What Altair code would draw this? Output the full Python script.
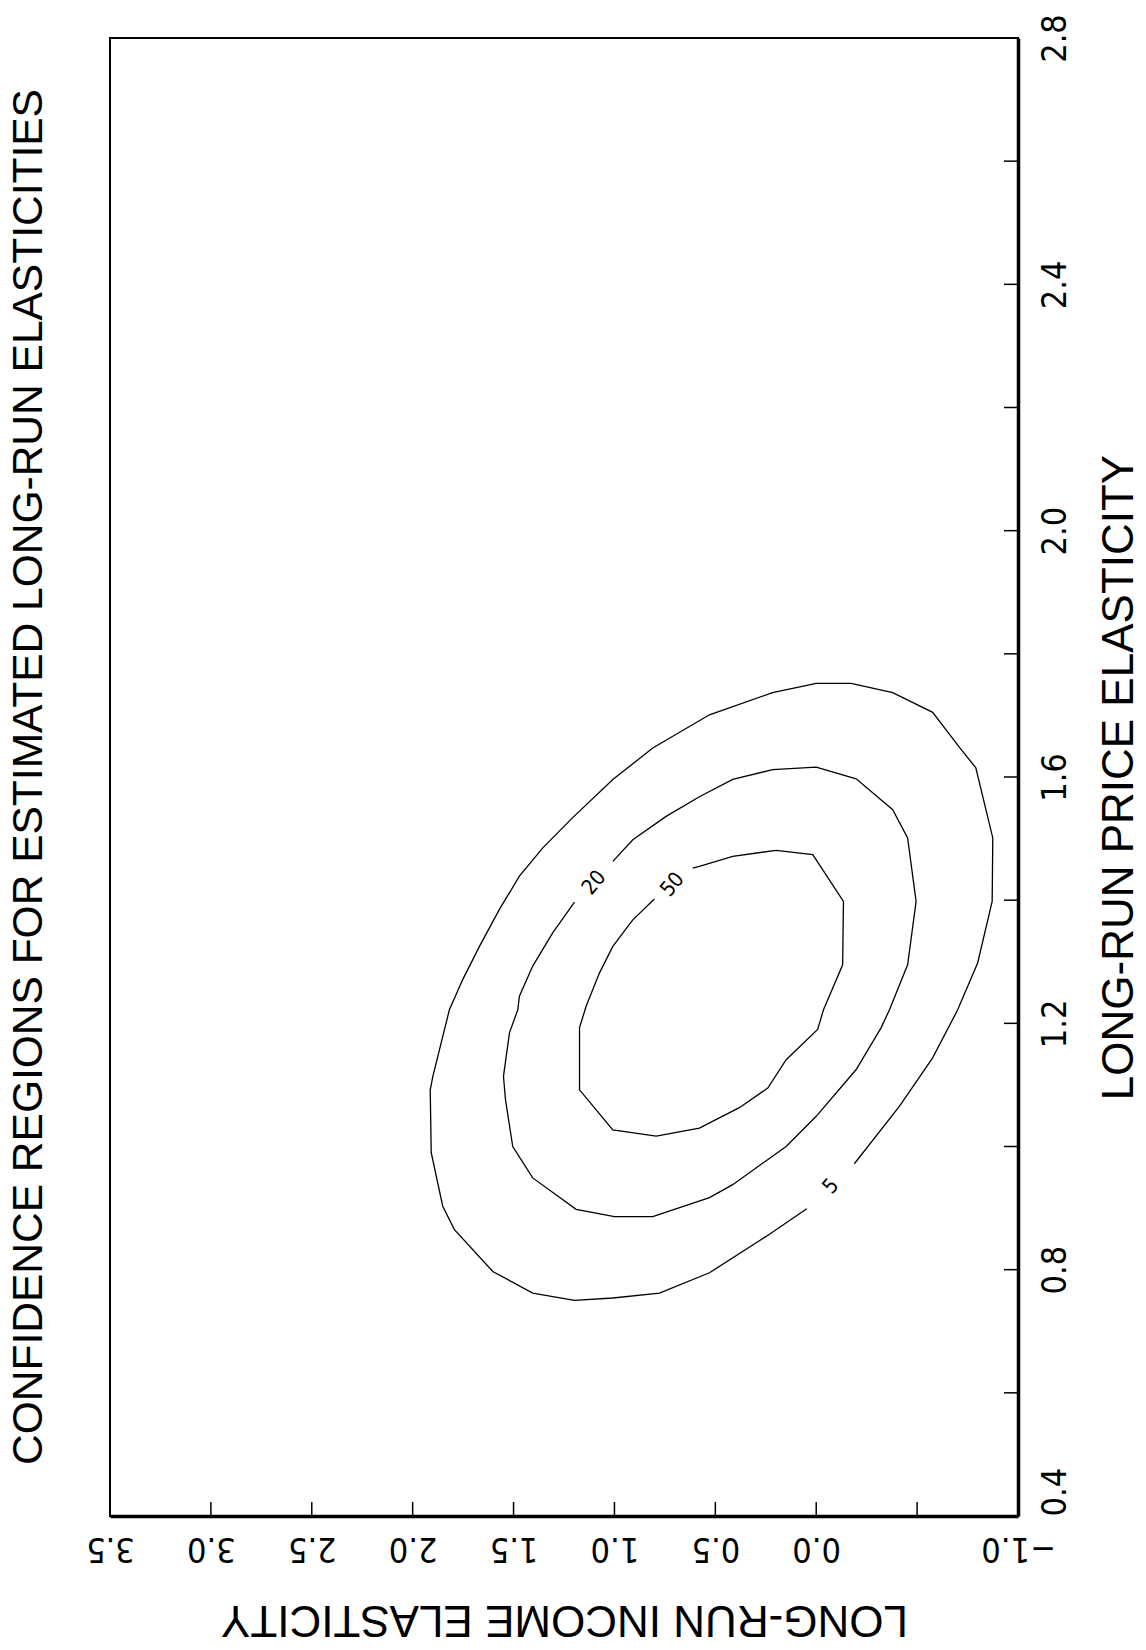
import altair as alt
import pandas as pd

TITLE = "CONFIDENCE REGIONS FOR ESTIMATED LONG-RUN ELASTICITIES"
X_TITLE = "LONG-RUN INCOME ELASTICITY"
Y_TITLE = "LONG-RUN PRICE ELASTICITY"

income_domain = [-1.0, 3.5]
price_domain = [0.4, 2.8]
income_labels = [-1.0, 0.0, 0.5, 1.0, 1.5, 2.0, 2.5, 3.0, 3.5]
income_ticks = [-0.5, 0.0, 0.5, 1.0, 1.5, 2.0, 2.5, 3.0]
price_labels = [0.4, 0.8, 1.2, 1.6, 2.0, 2.4, 2.8]
price_ticks = [0.6, 0.8, 1.0, 1.2, 1.4, 1.6, 1.8, 2.0, 2.2, 2.4, 2.6]

# contour "5"
c5_income = [-0.189, -0.412, -0.577, -0.701, -0.800, -0.872, -0.875, -0.791, -0.710,
             -0.577, -0.379, -0.173, 0.000, 0.216, 0.529, 0.810, 1.008, 1.207, 1.355,
             1.471, 1.570, 1.669, 1.752, 1.818, 1.900, 1.913, 1.908, 1.851, 1.793,
             1.603, 1.405, 1.198, 1.008, 0.777, 0.529, 0.248, 0.047]
c5_price = [0.972, 1.065, 1.144, 1.222, 1.298, 1.398, 1.501, 1.615, 1.648,
            1.705, 1.737, 1.752, 1.752, 1.737, 1.701, 1.647, 1.596, 1.534, 1.485,
            1.439, 1.385, 1.325, 1.271, 1.222, 1.114, 1.092, 0.990, 0.903, 0.865,
            0.797, 0.762, 0.750, 0.754, 0.762, 0.795, 0.854, 0.899]

# contour "20"
c20_income = [1.198, 1.306, 1.405, 1.471, 1.479, 1.520, 1.550, 1.540, 1.504, 1.405,
              1.190, 1.000, 0.810, 0.529, 0.414, 0.149, 0.000, -0.198, -0.322, -0.363,
              -0.453, -0.495, -0.453, -0.379, -0.198, 0.000, 0.216, 0.414, 0.579, 0.744,
              0.909, 1.008]
c20_price = [1.397, 1.347, 1.293, 1.244, 1.222, 1.185, 1.114, 1.076, 1.000, 0.949,
             0.898, 0.886, 0.886, 0.917, 0.938, 1.000, 1.049, 1.125, 1.193, 1.222,
             1.295, 1.398, 1.501, 1.547, 1.597, 1.616, 1.612, 1.596, 1.568, 1.536,
             1.498, 1.463]

# contour "50"
c50_income = [0.802, 0.909, 1.008, 1.074, 1.140, 1.173, 1.173, 1.008, 0.793, 0.579,
              0.381, 0.240, 0.149, -0.007, -0.036, -0.131, -0.135, 0.017, 0.199, 0.414,
              0.579, 0.612]
c50_price = [1.402, 1.368, 1.325, 1.282, 1.228, 1.193, 1.092, 1.027, 1.017, 1.030,
             1.063, 1.095, 1.141, 1.190, 1.222, 1.295, 1.398, 1.474, 1.481, 1.471,
             1.455, 1.452]

label_text = ["5", "20", "50"]
label_income = [-0.074, 1.099, 0.711]
label_price = [0.935, 1.428, 1.425]

rows = []
for name, xs, ys in [("5", c5_income, c5_price), ("20", c20_income, c20_price),
                     ("50", c50_income, c50_price)]:
    for i, (a, b) in enumerate(zip(xs, ys)):
        rows.append({"level": name, "i": i, "income": a, "price": b})
contours = pd.DataFrame(rows)
labels = pd.DataFrame({"label": label_text, "income": label_income, "price": label_price})
xt = pd.DataFrame({"income": income_ticks})
yt = pd.DataFrame({"price": price_ticks})
title_df = pd.DataFrame({"t": [TITLE]})

W, H = 908, 1478
FONT = "Liberation Sans"
NARROW = "Liberation Sans Narrow, DejaVu Sans Condensed, Liberation Sans, sans-serif"

xscale = alt.Scale(domain=income_domain, reverse=True, nice=False, zero=False)
yscale = alt.Scale(domain=price_domain, nice=False, zero=False)

x_axis = alt.Axis(
    title=X_TITLE, orient="bottom", values=income_labels, format=".1f",
    ticks=False, tickSize=0, grid=False,
    labelAngle=180, labelAlign="center", labelBaseline="middle", labelPadding=31,
    labelFlush=False, labelOverlap=False, labelBound=False,
    labelFont=NARROW, labelFontSize=34, labelColor="black",
    domainColor="black", domainWidth=3.5,
    titleAngle=180, titleAlign="center", titleBaseline="middle",
    titleX=W / 2, titleY=102, titleFont=FONT, titleFontSize=44,
    titleFontWeight="normal", titleColor="black",
)
y_axis = alt.Axis(
    title=Y_TITLE, orient="right", values=price_labels, format=".1f",
    ticks=False, tickSize=0, grid=False,
    labelAngle=270,
    labelAlign={"condition": {"test": "datum.value <= 0.4", "value": "left"}, "value": "center"},
    labelBaseline="middle", labelPadding=37,
    labelFlush=False, labelOverlap=False, labelBound=False,
    labelFont=NARROW, labelFontSize=34, labelColor="black",
    domainColor="black", domainWidth=3.5,
    titleAngle=270, titleAlign="center", titleBaseline="middle",
    titleX=101, titleY=H / 2, titleFont=FONT, titleFontSize=44,
    titleFontWeight="normal", titleColor="black",
)

lines = alt.Chart(contours).mark_line(color="black", strokeWidth=1.3).encode(
    x=alt.X("income:Q", scale=xscale, axis=x_axis),
    y=alt.Y("price:Q", scale=yscale, axis=y_axis),
    detail="level:N",
    order="i:Q",
)

xticks = alt.Chart(xt).mark_rule(color="black", strokeWidth=1.5).encode(
    x=alt.X("income:Q", scale=xscale, axis=x_axis),
    y=alt.value(H),
    y2=alt.value(H - 14),
)

yticks = alt.Chart(yt).mark_rule(color="black", strokeWidth=1.5).encode(
    y=alt.Y("price:Q", scale=yscale, axis=y_axis),
    x=alt.value(W),
    x2=alt.value(W - 14),
)

texts = alt.Chart(labels).mark_text(
    angle=310, fontSize=21, font=NARROW, color="black", align="center", baseline="middle"
).encode(
    x=alt.X("income:Q", scale=xscale, axis=x_axis),
    y=alt.Y("price:Q", scale=yscale, axis=y_axis),
    text="label:N",
)

title_mark = alt.Chart(title_df).mark_text(
    angle=270, fontSize=42.5, font=FONT, color="black", align="center", baseline="middle"
).encode(
    text="t:N",
    x=alt.value(-81),
    y=alt.value(H / 2),
)

chart = alt.layer(lines, xticks, yticks, texts, title_mark).properties(
    width=W,
    height=H,
    autosize=alt.AutoSizeParams(type="none"),
    padding={"left": 110, "top": 38, "right": 128, "bottom": 134},
).configure_view(stroke="black", strokeWidth=2)

chart.save("out.html", embed_options={"renderer": "svg", "actions": False})
